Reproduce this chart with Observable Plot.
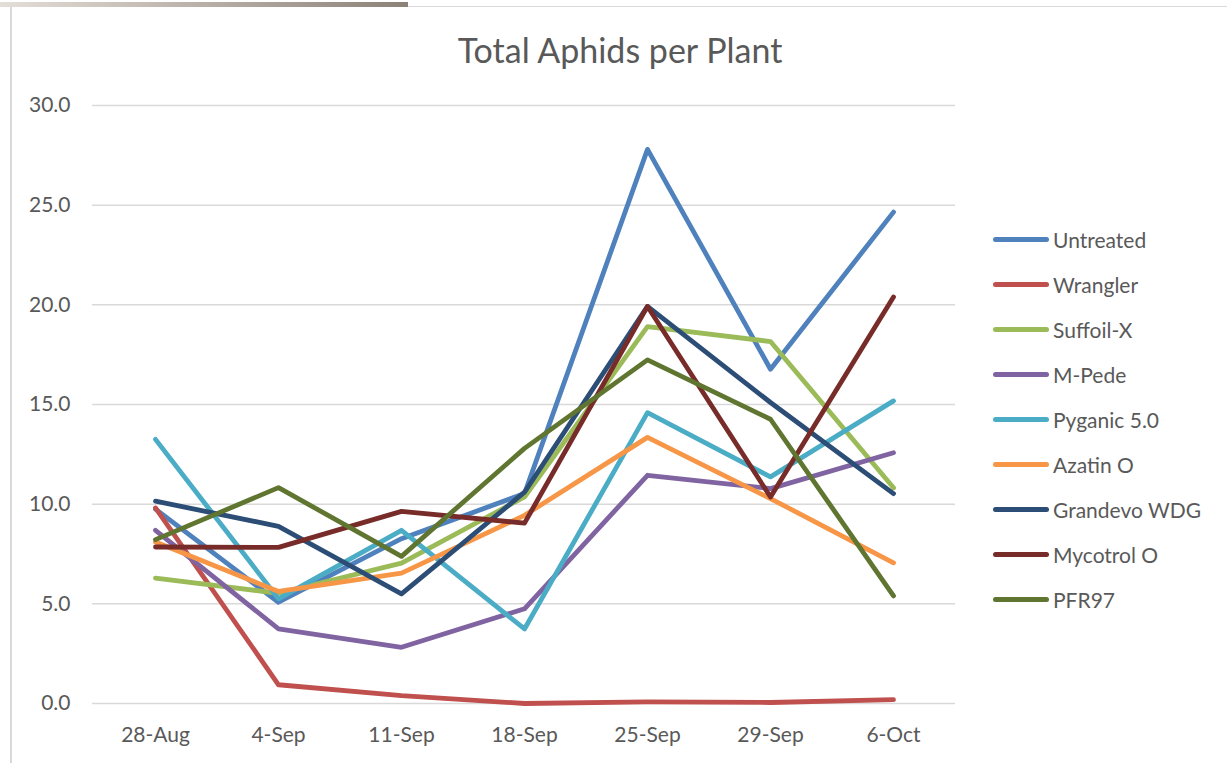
<!DOCTYPE html>
<html>
<head>
<meta charset="utf-8">
<script src="https://cdn.jsdelivr.net/npm/d3@7"></script>
<script src="https://cdn.jsdelivr.net/npm/@observablehq/plot@0.6"></script>
<style>
  html, body { margin: 0; padding: 0; background: #fff; }
  #wrap { position: relative; width: 1227px; height: 763px; overflow: hidden; font-family: Lato, "Open Sans", sans-serif; color: #595959; }
  #topbar { position: absolute; left: 0; top: 2px; width: 408px; height: 5px; background: linear-gradient(to right, #e4ded8, #8c8177); }
  #topline { position: absolute; left: 408px; top: 6px; width: 819px; height: 1px; background: #d9d9d9; }
  #leftline { position: absolute; left: 10px; top: 7px; width: 2px; height: 756px; background: #d9d9d9; }
  #title { position: absolute; left: 0; width: 1240px; top: 28px; text-align: center; font-size: 34px; line-height: 44px; }
  #chart { position: absolute; left: 0; top: 0; }
  #legend { position: absolute; left: 993px; top: 217px; }
  .item { height: 45px; display: flex; align-items: center; position: relative; }
  .item .sw { width: 56px; height: 5px; border-radius: 3px; margin-right: 4px; }
  .item span { font-size: 21px; white-space: nowrap; }
</style>
</head>
<body>
<div id="wrap">
  <div id="topbar"></div>
  <div id="topline"></div>
  <div id="leftline"></div>
  <div id="title">Total Aphids per Plant</div>
  <div id="chart"></div>
  <div id="legend"></div>
</div>
<script>
const dates = ["28-Aug", "4-Sep", "11-Sep", "18-Sep", "25-Sep", "29-Sep", "6-Oct"];
const seriesNames = ["Untreated", "Wrangler", "Suffoil-X", "M-Pede", "Pyganic 5.0", "Azatin O", "Grandevo WDG", "Mycotrol O", "PFR97"];
const seriesColors = ["#4F81BD", "#C0504D", "#9BBB59", "#8064A2", "#4BACC6", "#F79646", "#2C4D75", "#772C2A", "#5F7530"];

const untreated  = [9.75, 5.08, 8.27, 10.53, 27.80, 16.77, 24.65];
const wrangler   = [9.81, 0.94, 0.39, 0.00, 0.08, 0.05, 0.19];
const suffoilX   = [6.29, 5.53, 7.04, 10.36, 18.91, 18.16, 10.82];
const mPede      = [8.69, 3.74, 2.82, 4.75, 11.45, 10.78, 12.58];
const pyganic    = [13.25, 5.25, 8.69, 3.74, 14.59, 11.37, 15.18];
const azatinO    = [8.10, 5.62, 6.54, 9.44, 13.35, 10.28, 7.06];
const grandevo   = [10.15, 8.89, 5.50, 10.60, 19.92, 15.10, 10.53];
const mycotrolO  = [7.85, 7.83, 9.64, 9.05, 19.92, 10.36, 20.39];
const pfr97      = [8.22, 10.83, 7.38, 12.80, 17.24, 14.26, 5.40];

const yTicks = [0, 5, 10, 15, 20, 25, 30];

const seriesValues = [untreated, wrangler, suffoilX, mPede, pyganic, azatinO, grandevo, mycotrolO, pfr97];
const rows = [];
seriesNames.forEach((name, i) => {
  seriesValues[i].forEach((v, j) => rows.push({series: name, date: dates[j], value: v}));
});

const chart = Plot.plot({
  width: 1000,
  height: 763,
  marginLeft: 92,
  marginRight: 45,
  marginTop: 105,
  marginBottom: 60,
  style: {fontFamily: "Lato, 'Open Sans', sans-serif", fontSize: "21px", color: "#595959", background: "transparent", overflow: "visible"},
  x: {type: "point", domain: dates, padding: 0.5, label: null},
  y: {domain: [0, 30], label: null},
  color: {domain: seriesNames, range: seriesColors},
  marks: [
    Plot.gridY(yTicks, {stroke: "#d9d9d9", strokeOpacity: 1, strokeWidth: 1.5}),
    Plot.axisY(yTicks, {tickSize: 0, tickPadding: 22, tickFormat: d3.format(".1f"), label: null}),
    Plot.axisX({tickSize: 0, tickPadding: 24, label: null}),
    Plot.line(rows, {x: "date", y: "value", z: "series", stroke: "series", strokeWidth: 4.8, strokeLinecap: "round", strokeLinejoin: "round"})
  ]
});
document.getElementById("chart").appendChild(chart);

const legend = document.getElementById("legend");
seriesNames.forEach((name, i) => {
  const item = document.createElement("div");
  item.className = "item";
  const sw = document.createElement("div");
  sw.className = "sw";
  sw.style.background = seriesColors[i];
  const label = document.createElement("span");
  label.textContent = name;
  item.appendChild(sw);
  item.appendChild(label);
  legend.appendChild(item);
});
</script>
</body>
</html>
